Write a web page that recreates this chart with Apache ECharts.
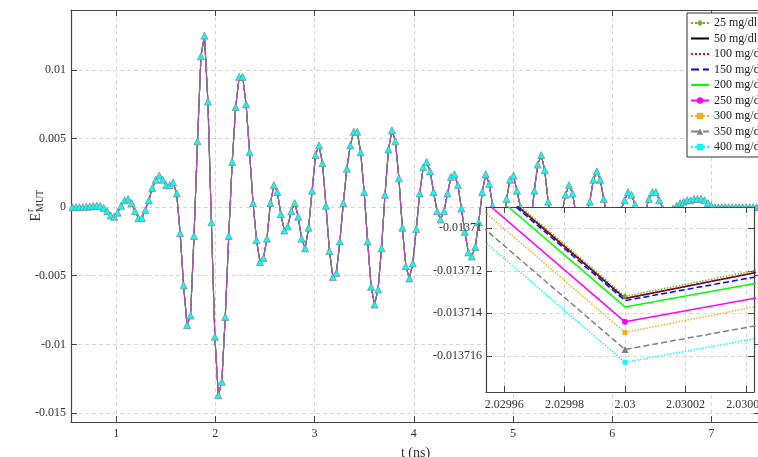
<!DOCTYPE html>
<html><head><meta charset="utf-8">
<script src="https://cdn.jsdelivr.net/npm/echarts@6/dist/echarts.min.js"></script>
<style>html,body{margin:0;padding:0;background:#fff}#c{width:758px;height:457px}</style>
</head><body><div id="c"></div>
<script>
// ---------- data ----------
const concentrations = ['25 mg/dl','50 mg/dl','100 mg/dl','150 mg/dl','200 mg/dl','250 mg/dl','300 mg/dl','350 mg/dl','400 mg/dl'];

const times = [
 0.56,0.595,0.63,0.665,0.7,0.735,0.77,0.805,0.84,0.875,
 0.91,0.945,0.98,1.015,1.05,1.085,1.12,1.155,1.19,1.225,
 1.26,1.295,1.33,1.365,1.4,1.435,1.47,1.505,1.54,1.575,
 1.61,1.645,1.68,1.715,1.75,1.785,1.82,1.855,1.89,1.925,
 1.96,1.995,2.03,2.065,2.1,2.135,2.17,2.205,2.24,2.275,
 2.31,2.345,2.38,2.415,2.45,2.485,2.52,2.555,2.59,2.625,
 2.66,2.695,2.73,2.765,2.8,2.835,2.87,2.905,2.94,2.975,
 3.01,3.045,3.08,3.115,3.15,3.185,3.22,3.255,3.29,3.325,
 3.36,3.395,3.43,3.465,3.5,3.535,3.57,3.605,3.64,3.675,
 3.71,3.745,3.78,3.815,3.85,3.885,3.92,3.955,3.99,4.025,
 4.06,4.095,4.13,4.165,4.2,4.235,4.27,4.305,4.34,4.375,
 4.41,4.445,4.48,4.515,4.55,4.585,4.62,4.655,4.69,4.725,
 4.76,4.795,4.83,4.865,4.9,4.935,4.97,5.005,5.04,5.075,
 5.11,5.145,5.18,5.215,5.25,5.285,5.32,5.355,5.39,5.425,
 5.46,5.495,5.53,5.565,5.6,5.635,5.67,5.705,5.74,5.775,
 5.81,5.845,5.88,5.915,5.95,5.985,6.02,6.055,6.09,6.125,
 6.16,6.195,6.23,6.265,6.3,6.335,6.37,6.405,6.44,6.475,
 6.51,6.545,6.58,6.615,6.65,6.685,6.72,6.755,6.79,6.825,
 6.86,6.895,6.93,6.965,7.0,7.035,7.07,7.105,7.14,7.175,
 7.21,7.245,7.28,7.315,7.35,7.385,7.42,7.455,7.49
];

const signal = [
 0,0,0,0,0.00003,0.00005,0.00008,0.0001,0.00008,-0.00005,
 -0.0003,-0.0006,-0.0007,-0.0004,0.0001,0.0005,0.0006,0.0003,-0.0003,-0.0008,
 -0.0008,-0.0002,0.0005,0.0014,0.002,0.0023,0.002,0.0016,0.0016,0.0018,
 0.001,-0.0019,-0.0057,-0.0086,-0.0079,-0.0021,0.0048,0.011,0.0125,0.0077,
 -0.0011,-0.0094433,-0.0137133,-0.0127293,-0.008,-0.0021,0.0033,0.0073,0.0095,0.0095,
 0.0075,0.004,0.0003,-0.0024,-0.004,-0.0037,-0.0023,0.0003,0.0016,0.0011,
 -0.0005,-0.0017,-0.0014,-0.0003,0.0003,-0.0007,-0.0023,-0.003,-0.0015,0.0012,
 0.0038,0.0045,0.0032,0.0001,-0.0032,-0.0051,-0.0048,-0.0025,0.0003,0.0028,
 0.0045,0.0055,0.0055,0.004,0.0011,-0.0025,-0.0058,-0.0071,-0.006,-0.003,
 0.0009,0.0042,0.0056,0.0048,0.0021,-0.0015,-0.0043,-0.0052,-0.0041,-0.0016,
 0.001,0.0029,0.0033,0.0026,0.0011,-0.0003,-0.0009,-0.0003,0.001,0.0022,
 0.0024,0.0016,-0.0001,-0.0018,-0.0033,-0.0036,-0.0029,-0.0011,0.0011,0.0024,
 0.0017,0.0001,-0.0015,-0.0022,-0.0015,0.0006,0.002,0.0023,0.0012,0.0,
 -0.0015,-0.0022,-0.0012,0.0012,0.0031,0.0038,0.0027,0.0004,-0.0014,-0.0022,
 -0.0018,-0.0004,0.0009,0.0016,0.001,-0.0005,-0.0015,-0.0015,-0.0005,0.0004,
 0.002,0.0026,0.002,0.0006,-0.0008,-0.0014,-0.0012,-0.0004,-0.0002,0.0005,
 0.0011,0.0009,0.0002,-0.0006,-0.0007,-0.0003,0.0006,0.0011,0.0011,0.0005,
 -0.0001,-0.0003,-0.0003,-0.0001,0.0001,0.0003,0.0004,0.0005,0.0005,0.0006,
 0.0006,0.0006,0.0005,0.0003,0.0001,0,0,0,0,0,
 0,0,0,0,0,0,0,0,0
];

// zoomed window around the minimum (t = 1.995, 2.03, 2.065 ns)
const insetTimes = [1.995, 2.03, 2.065];
const inset25  = [-0.0094432, -0.0137132, -0.0127292];
const inset50  = [-0.0094433, -0.0137133, -0.0127293];
const inset100 = [-0.0094433, -0.0137133, -0.0127293];
const inset150 = [-0.0094434, -0.0137134, -0.0128114];
const inset200 = [-0.0094437, -0.0137137, -0.0128117];
const inset250 = [-0.0094444, -0.0137144, -0.0128124];
const inset300 = [-0.0094449, -0.0137149, -0.0127313];
const inset350 = [-0.0094457, -0.0137157, -0.0128137];
const inset400 = [-0.0094463, -0.0137163, -0.0128143];
const insetValues = [inset25,inset50,inset100,inset150,inset200,inset250,inset300,inset350,inset400];

// ---------- styling ----------
const FONT = '"Liberation Serif", "DejaVu Serif", serif';
const AX = '#444';
const styles = [
  {color:'#77ac30', type:'dotted', symbol:'diamond', size:6},
  {color:'#000000', type:'solid',  symbol:'none', size:0},
  {color:'#ff0000', type:'dotted', symbol:'none', size:0},
  {color:'#0000ff', type:'dashed', symbol:'none', size:0},
  {color:'#00ff00', type:'solid',  symbol:'none', size:0},
  {color:'#ff00ff', type:'solid',  symbol:'circle', size:6},
  {color:'#edb120', type:'dotted', symbol:'rect', size:5},
  {color:'#808080', type:'dashed', symbol:'triangle', size:7},
  {color:'#00ffff', type:'dotted', symbol:'rect', size:5}
];

function zip(xs, ys){ return xs.map((x,i)=>[x, ys[i]]); }

const split = {show:true, lineStyle:{color:'#d6d6d6', type:[4,3], width:1}};
const tick = {show:true, inside:true, length:6, lineStyle:{color:AX, width:1}};
const line = {show:true, onZero:false, lineStyle:{color:AX, width:1.2}};
const lbl = {color:'#333', fontSize:12, fontFamily:FONT, showMinLabel:false, showMaxLabel:false};

const series = [];
// inset series first (these define the legend look)
concentrations.forEach((name,i)=>{
  const s = styles[i];
  series.push({
    name, type:'line', xAxisIndex:2, yAxisIndex:2, z:12,
    data: zip(insetTimes, insetValues[i]),
    symbol: s.symbol, symbolSize: s.size, showSymbol: s.symbol!=='none',
    lineStyle:{color:s.color, type:s.type, width:1.5},
    itemStyle:{color:s.color},
    clip:true, animation:false
  });
});
// main curves (all concentrations coincide at this scale)
const mainOrder = [0,1,2,3,4,6,8,5,7];
mainOrder.forEach(i=>{
  const s = styles[i];
  const isTop = (i===7);
  series.push({
    name: concentrations[i], type:'line', xAxisIndex:0, yAxisIndex:0, z:2,
    data: zip(times, signal),
    symbol: isTop ? 'triangle' : 'none',
    symbolSize: 7, showSymbol: isTop, showAllSymbol:true,
    lineStyle:{color:s.color, type: i===5 ? 'solid' : s.type, width: isTop ? 1.4 : 1},
    itemStyle: isTop ? {color:'#00ffff', borderColor:'#8a8a8a', borderWidth:0.8} : {color:s.color},
    animation:false
  });
});

const legendData = concentrations.map((n,i)=> styles[i].symbol==='none'
  ? {name:n, itemStyle:{opacity:0}} : {name:n});

const chart = echarts.init(document.getElementById('c'), null, {renderer:'canvas'});
chart.setOption({
  animation:false,
  backgroundColor:'#fff',
  textStyle:{fontFamily:FONT},
  grid:[
    {left:71, top:10, width:689, height:412, show:false, outerBoundsMode:'none', containLabel:false},
    {left:486, top:207, width:268, height:185, show:true, backgroundColor:'#fff', borderWidth:0, z:10, outerBoundsMode:'none', containLabel:false}
  ],
  xAxis:[
    {gridIndex:0, type:'value', min:0.545, max:7.49, splitNumber:7,
     axisLine:line, axisTick:tick, splitLine:split,
     axisLabel:Object.assign({margin:6}, lbl),
     name:'t (ns)', nameLocation:'middle', nameGap:24,
     nameTextStyle:{fontSize:14, color:'#333', fontFamily:FONT}},
    {gridIndex:0, type:'value', position:'top', min:0.545, max:7.49, splitNumber:7,
     axisLine:line, axisTick:tick, splitLine:{show:false}, axisLabel:{show:false}},
    {gridIndex:1, type:'value', min:2.029954, max:2.0300427, splitNumber:4, z:11,
     axisLine:line, axisTick:tick, splitLine:split,
     axisLabel:Object.assign({margin:7}, lbl)},
    {gridIndex:1, type:'value', position:'top', min:2.029954, max:2.0300427, splitNumber:4, z:11,
     axisLine:line, axisTick:tick, splitLine:{show:false}, axisLabel:{show:false}}
  ],
  yAxis:[
    {gridIndex:0, type:'value', min:-0.01566, max:0.01437, splitNumber:6,
     axisLine:line, axisTick:tick, splitLine:split,
     axisLabel:Object.assign({margin:5}, lbl)},
    {gridIndex:0, type:'value', position:'right', min:-0.01566, max:0.01437, splitNumber:6,
     axisLine:line, axisTick:tick, splitLine:{show:false}, axisLabel:{show:false}},
    {gridIndex:1, type:'value', min:-0.0137177, max:-0.013709, splitNumber:4, z:11,
     axisLine:line, axisTick:tick, splitLine:split,
     axisLabel:Object.assign({margin:4}, lbl)},
    {gridIndex:1, type:'value', position:'right', min:-0.0137177, max:-0.013709, splitNumber:4, z:11,
     axisLine:line, axisTick:tick, splitLine:{show:false}, axisLabel:{show:false}}
  ],
  legend:{
    data: legendData, orient:'vertical', left:687, top:13,
    itemWidth:18, itemHeight:8, itemGap:3.5, padding:[4,4,4,3],
    backgroundColor:'#fff', borderColor:'#333', borderWidth:1,
    textStyle:{fontFamily:FONT, fontSize:12, color:'#222'},
    selectedMode:false, z:20
  },
  graphic:[{
    type:'group', x:36, y:207, rotation:Math.PI/2, z:100,
    children:[
      {type:'text', x:-6, y:0, style:{text:'E', fontSize:14, fontFamily:'Liberation Serif', fill:'#333', align:'right', verticalAlign:'middle'}},
      {type:'text', x:-5, y:-6, style:{text:'r', fontSize:10, fontFamily:'Liberation Serif', fill:'#333', align:'left', verticalAlign:'middle'}},
      {type:'text', x:-5, y:4, style:{text:'MUT', fontSize:10, fontFamily:'Liberation Serif', fill:'#333', align:'left', verticalAlign:'middle'}}
    ]
  }],
  series
});
</script></body></html>
